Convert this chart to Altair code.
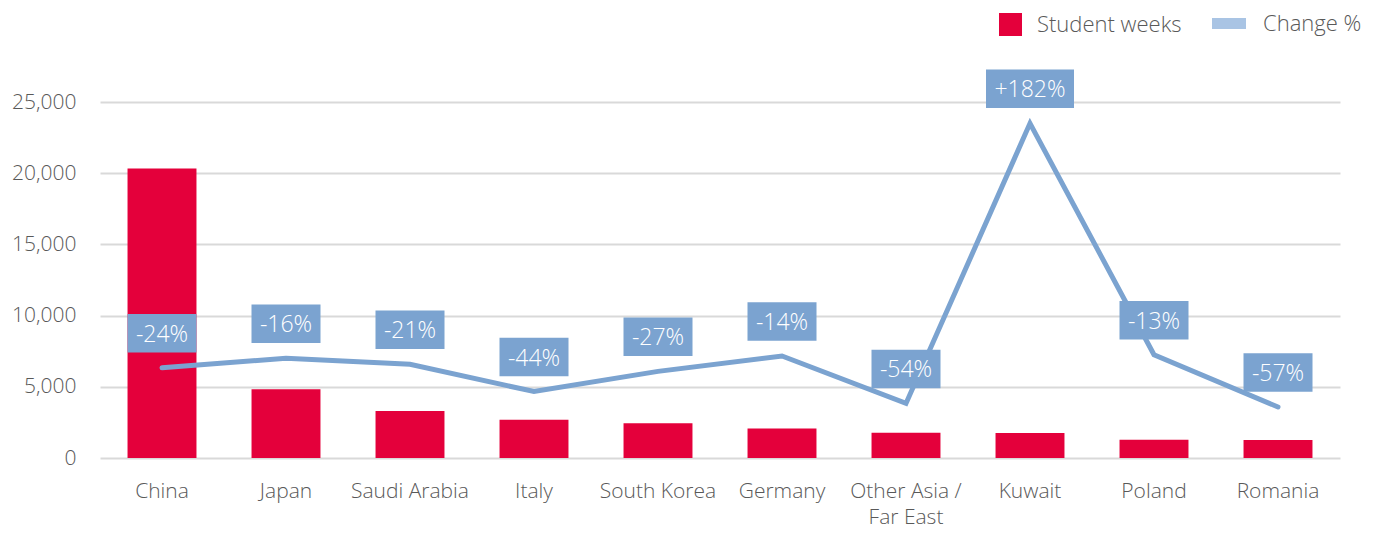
import altair as alt
import pandas as pd

categories = ["China", "Japan", "Saudi Arabia", "Italy", "South Korea", "Germany",
              "Other Asia / Far East", "Kuwait", "Poland", "Romania"]
student_weeks = [20330, 4820, 3300, 2680, 2440, 2070, 1770, 1750, 1280, 1260]
change_pct = [-24, -16, -21, -44, -27, -14, -54, 182, -13, -57]
change_labels = [f"{v:+d}%" for v in change_pct]

RED = "#E4003B"
BLUE = "#7BA3D0"
LEGEND_BLUE = "#A9C4E4"
GREY = "#595959"
FONT = "Open Sans"
FW = 300

df = pd.DataFrame({
    "category": categories,
    "weeks": student_weeks,
    "change": change_pct,
    "label": change_labels,
    "series": ["Student weeks"] * len(categories),
    "series2": ["Change %"] * len(categories),
})

x_enc = alt.X(
    "category:N", sort=categories, title=None,
    scale=alt.Scale(paddingInner=0.444, paddingOuter=0.222),
    axis=alt.Axis(labelAngle=0, ticks=False, domain=False, labelPadding=22,
                  labelFontSize=21, labelColor=GREY, labelFont=FONT, labelFontWeight=FW,
                  labelLineHeight=26,
                  labelExpr="datum.value == 'Other Asia / Far East' ? ['Other Asia /', 'Far East'] : datum.label"),
)

bars = alt.Chart(df).mark_bar(color=RED).encode(
    x=x_enc,
    y=alt.Y("weeks:Q", title=None,
            scale=alt.Scale(domain=[0, 25000], nice=False),
            axis=alt.Axis(values=[0, 5000, 10000, 15000, 20000, 25000], format=",d",
                          ticks=False, domain=False, labelPadding=24, labelFontSize=21,
                          labelColor=GREY, labelFont=FONT, labelFontWeight=FW, grid=True,
                          gridColor="#D9D9D9", gridWidth=1.8)),
    color=alt.Color("series:N",
                    scale=alt.Scale(domain=["Student weeks"], range=[RED]),
                    legend=alt.Legend(title=None, orient="none", legendX=899, legendY=-89,
                                      symbolType="square", symbolSize=529,
                                      symbolStrokeWidth=0, labelOffset=15,
                                      labelFontSize=22, labelColor=GREY, labelFont=FONT,
                                      labelFontWeight=FW, padding=0, labelLimit=300)),
)

y_change = alt.Y("change:Q", scale=alt.Scale(domain=[-100, 200], nice=False), axis=None)

line = alt.Chart(df).mark_line(color=BLUE, strokeWidth=5, strokeCap="round",
                               strokeJoin="miter").encode(x=x_enc, y=y_change)

legend_dummy = alt.Chart(df).transform_filter("false").mark_point(filled=True).encode(
    x=x_enc, y=y_change,
    fill=alt.Fill("series2:N",
                  scale=alt.Scale(domain=["Change %"], range=[LEGEND_BLUE]),
                  legend=alt.Legend(title=None, orient="none", legendX=1112, legendY=-95.5,
                                    symbolType="M-1,-0.32L1,-0.32L1,0.32L-1,0.32Z",
                                    symbolSize=1156, symbolStrokeWidth=0,
                                    symbolFillColor=LEGEND_BLUE, symbolOpacity=1,
                                    labelOffset=17, labelFontSize=22, labelColor=GREY,
                                    labelFont=FONT, labelFontWeight=FW, padding=0,
                                    labelLimit=300)),
)

box_narrow = alt.Chart(df).transform_filter("length(datum.label) <= 4").mark_point(
    shape="M-0.69,-1.075L0.69,-1.075L0.69,-0.305L-0.69,-0.305Z",
    size=10000, filled=True, color=BLUE, opacity=1, strokeWidth=0,
).encode(x=x_enc, y=y_change)

box_wide = alt.Chart(df).transform_filter("length(datum.label) > 4").mark_point(
    shape="M-0.88,-1.075L0.88,-1.075L0.88,-0.305L-0.88,-0.305Z",
    size=10000, filled=True, color=BLUE, opacity=1, strokeWidth=0,
).encode(x=x_enc, y=y_change)

text = alt.Chart(df).mark_text(color="white", fontSize=23, font=FONT, fontWeight=FW,
                               dy=-33, baseline="middle", align="center").encode(
    x=x_enc, y=y_change, text="label:N")

change_layer = alt.layer(line, legend_dummy, box_narrow, box_wide, text)

chart = alt.layer(bars, change_layer).resolve_scale(
    y="independent", color="independent"
).properties(
    width=1240, height=356,
    autosize=alt.AutoSizeParams(type="none"),
    padding={"left": 92, "top": 94, "right": 33, "bottom": 68},
).configure(background="white").configure_view(stroke=None)

chart.save("out.html", embed_options={"renderer": "svg", "actions": False})
